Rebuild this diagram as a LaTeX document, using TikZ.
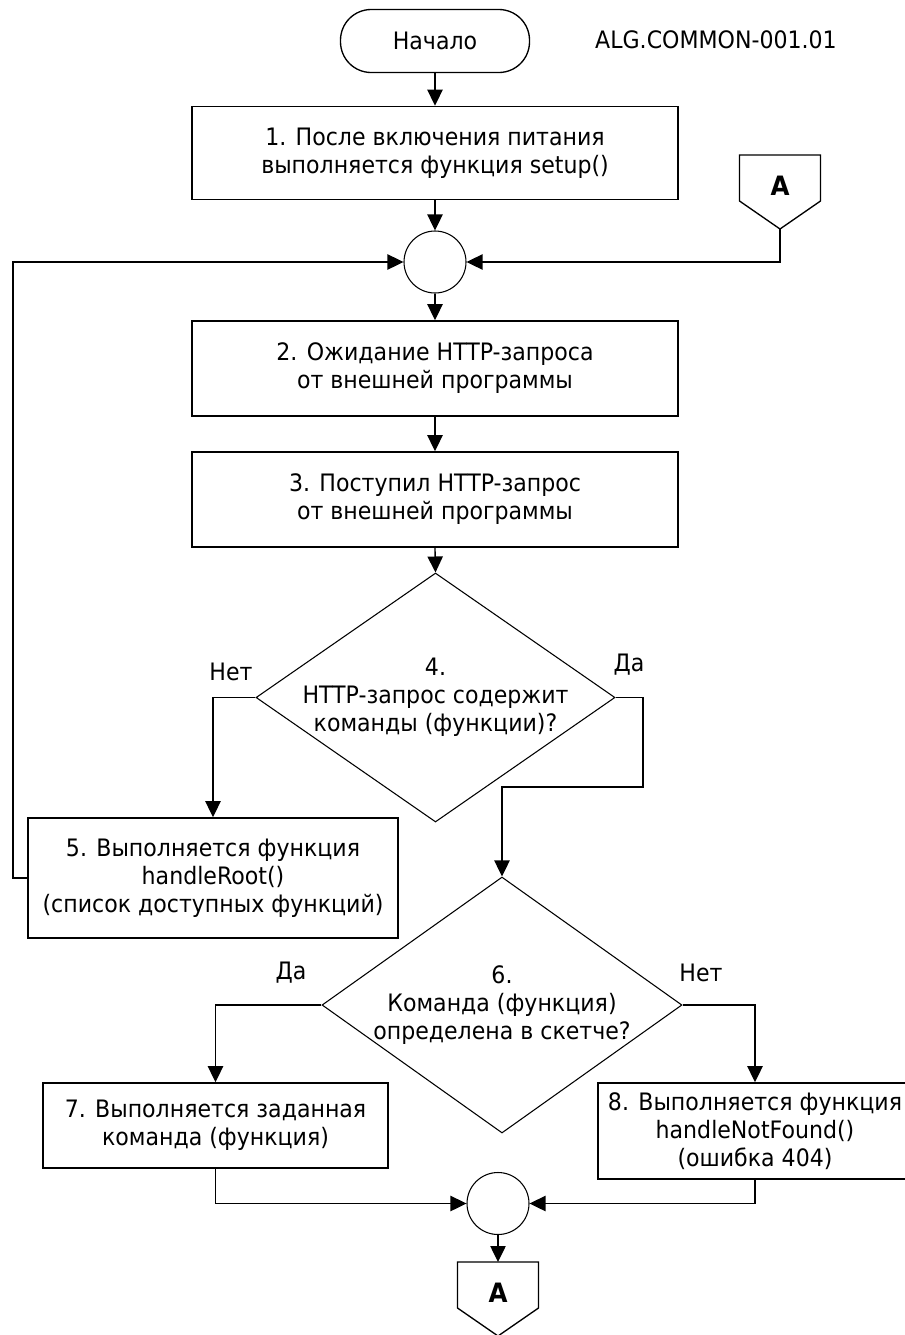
\documentclass[tikz,border=0pt]{standalone}
\usepackage{fontspec}
\setmainfont{DejaVu Sans}[FakeStretch=0.92]
\usetikzlibrary{shapes.geometric}
\usetikzlibrary{arrows.meta}
\newcommand{\offpage}[3]{\draw[line width=1pt] ({#1-40.5},#2) -- ({#1+40.5},#2) -- ({#1+40.5},{#2+46}) -- (#1,{#2+74}) -- ({#1-40.5},{#2+46}) -- cycle; \coordinate (#3 top) at (#1,#2); \coordinate (#3 tip) at (#1,{#2+74}); \node[font=\fontsize{20pt}{20pt}\selectfont\bfseries] (#3) at (#1,{#2+31}) {A};}

\tikzset{
  every node/.style={font=\fontsize{18pt}{21pt}\selectfont, align=center},
  block/.style={draw, line width=1.2pt, inner sep=2pt},
  term/.style={draw, line width=1pt, rounded corners=23pt, minimum width=141.75pt, minimum height=47.25pt},
  decision/.style={draw, diamond, line width=0.8pt, inner sep=0pt},
  joint/.style={draw, circle, line width=0.8pt, minimum size=46.5pt, inner sep=0pt},
  arr/.style={line width=1pt, -{Triangle[length=12pt,width=11.5pt]}}
}

\begin{document}
\begin{tikzpicture}[x=0.75pt, y=-0.75pt]
        \useasboundingbox (0,0) rectangle (904,1335);
        % top
        \node[term] (start) at (435,41) {Начало};
        \node (code) at (716,40) {ALG.COMMON-001.01};
        \node[block, minimum width=364.5pt, minimum height=69.75pt] (box1) at (435,153) {1. После включения питания\\выполняется функция setup()};
        \offpage{780}{155}{A1}
        \node[joint] (c1) at (435,262) {};
        \coordinate (loop) at (13,262);
        % requests
        \node[block, minimum width=364.5pt, minimum height=71.25pt] (box2) at (435,368.5) {2. Ожидание HTTP-запроса\\от внешней программы};
        \node[block, minimum width=364.5pt, minimum height=71.25pt] (box3) at (435,499.5) {3. Поступил HTTP-запрос\\от внешней программы};
        \node[decision, minimum width=269.25pt, minimum height=186.75pt] (d4) at (435.5,697.5) {};
        \node (d4 text) at (d4) {4.\\HTTP-запрос содержит\\команды (функции)?};
        \node (no1) at (231,672) {Нет};
        \node (yes1) at (629,665) {Да};
        \node[block, minimum width=277.5pt, minimum height=90pt] (box5) at (213,878) {5. Выполняется функция\\handleRoot()\\(список доступных функций)};
        \coordinate (bend) at (643,787);
        % commands
        \node[decision, minimum width=270pt, minimum height=192pt] (d6) at (502,1005) {};
        \node (d6 text) at (d6) {6.\\Команда (функция)\\определена в скетче?};
        \node (yes2) at (291,973) {Да};
        \node (no2) at (701,973) {Нет};
        \node[block, minimum width=258.75pt, minimum height=63.75pt] (box7) at (215.5,1125.5) {7. Выполняется заданная\\команда (функция)};
        \node[block, minimum width=235.5pt, minimum height=72pt] (box8) at (755,1131) {8. Выполняется функция\\handleNotFound()\\(ошибка 404)};
        \node[joint] (c2) at (498,1203.5) {};
        \offpage{498}{1262}{A2}
        % arrows
        \draw[arr] (start.south) -- (box1.north);
        \draw[arr] (box1.south) -- (c1.north);
        \draw[arr] (A1 tip) |- (c1.east);
        \draw[arr] (box5.west) -| (loop) -- (c1.west);
        \draw[arr] (c1.south) -- (box2.north);
        \draw[arr] (box2.south) -- (box3.north);
        \draw[arr] (box3.south) -- (d4.north);
        \draw[arr] (d4.west) -| (box5.north);
        \draw[arr] (d4.east) -| (bend) -| (d6.north);
        \draw[arr] (d6.west) -| (box7.north);
        \draw[arr] (d6.east) -| (box8.north);
        \draw[arr] (box7.south) |- (c2.west);
        \draw[arr] (box8.south) |- (c2.east);
        \draw[arr] (c2.south) -- (A2 top);
    \end{tikzpicture}
\end{document}
